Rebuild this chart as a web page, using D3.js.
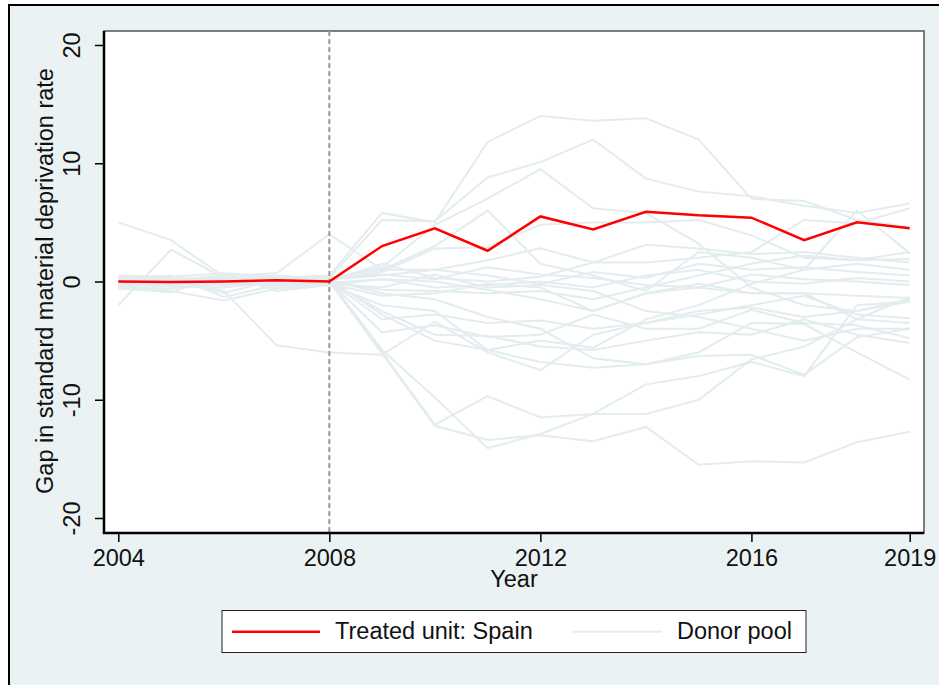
<!DOCTYPE html>
<html>
<head>
<meta charset="utf-8">
<script src="https://cdn.jsdelivr.net/npm/d3@7"></script>
<style>
  body { margin: 0; background: #fff; }
  text { font-family: "Liberation Sans", Arial, sans-serif; fill: #111; }
</style>
</head>
<body>
<div class="chart"></div>
<script>
// data
const years = d3.range(2004, 2020);
const spain = [0, -0.05, 0, 0.1, 0, 3.0, 4.5, 2.6, 5.5, 4.4, 5.9, 5.6, 5.4, 3.5, 5.0, 4.5];
const donors = [
  [0.3, 0.2, -0.3, 0.3, 0.5, 5.8, 5.0, 11.8, 14.0, 13.6, 13.8, 12.0, 7.0, 6.8, 5.2, 4.6],
  [0.2, 0.1, 0.4, 0.2, 0.3, 5.2, 5.1, 8.8, 10.1, 12.0, 8.7, 7.6, 7.2, 6.4, 5.8, 6.6],
  [0.0, -0.3, 0.2, 0.4, 0.2, 1.2, 4.8, 7.0, 9.5, 6.2, 5.8, 3.2, -0.5, -2.0, -2.5, -1.5],
  [-0.2, 0.1, 0.5, 0.7, 4.0, 1.0, 3.0, 6.0, 1.5, 0.5, -0.8, 2.5, 2.0, 1.0, 6.0, 2.4],
  [0.4, 0.3, 0.0, -0.2, 0.1, 0.8, 2.8, 2.9, 4.8, 5.0, 5.0, 5.2, 3.9, 2.0, 1.8, 2.5],
  [-0.3, -0.4, -0.5, 0.0, 0.0, 1.5, 0.3, 0.0, 0.4, 1.6, 3.1, 2.8, 2.3, 2.5, 2.0, 1.6],
  [0.1, -0.2, 0.3, 0.5, 0.2, 0.5, 1.0, 0.5, -0.2, 0.8, 0.3, 1.5, 1.0, 1.2, 0.8, 0.5],
  [-0.5, -0.6, -0.2, -0.3, -0.1, 0.2, -0.5, -0.3, 0.0, -0.5, 0.5, 1.0, 0.0, -0.2, 0.3, 0.0],
  [0.2, 0.5, -1.3, -0.3, 0.0, -0.7, -0.8, -1.0, -0.8, -1.5, -0.5, 0.5, 1.5, 2.2, 1.8, 1.9],
  [-0.2, -0.3, 0.0, 0.0, -0.2, -1.2, -1.0, -0.2, -0.5, -2.5, -1.0, -0.5, -1.0, -1.0, -1.2, -1.4],
  [0.0, 0.2, -1.0, 0.2, 0.0, -3.2, -2.8, -3.5, -3.3, -4.0, -3.5, -2.5, -2.2, -3.0, -2.5, -1.7],
  [-0.4, -0.8, -1.6, -0.6, -0.3, -2.0, -2.5, -5.8, -5.0, -5.6, -3.2, -2.0, -0.2, 1.0, 1.5, 1.0],
  [0.3, 0.2, -0.8, -5.4, -6.0, -6.2, -3.4, -6.0, -7.5, -4.5, -3.5, -2.8, -2.0, -1.2, -2.8, -3.1],
  [0.1, 0.0, 0.3, 0.2, 0.0, -4.3, -3.7, -4.7, -4.5, -2.8, -4.0, -4.0, -2.4, -3.5, -3.7, -4.8],
  [-0.1, 0.1, -0.3, 0.1, 0.0, -2.5, -4.5, -4.6, -5.5, -5.8, -5.0, -4.3, -4.5, -3.2, -4.5, -5.2],
  [0.2, -0.1, 0.4, 0.0, 0.1, -1.0, -1.5, -3.0, -4.0, -6.5, -7.0, -6.3, -6.2, -7.9, -4.7, -4.0],
  [0.0, 0.3, 0.1, 0.3, 0.2, -2.8, -5.0, -5.8, -6.8, -7.3, -7.0, -6.0, -3.5, -3.6, -6.0, -8.3],
  [0.1, 0.0, -0.2, 0.3, 0.0, -6.0, -12.1, -9.7, -11.5, -11.2, -11.2, -10.0, -6.6, -5.5, -3.2, -1.3],
  [-0.3, -0.2, 0.0, 0.1, 0.1, -5.8, -9.8, -14.1, -12.9, -11.2, -8.7, -8.0, -6.8, -8.0, -2.0, -1.7],
  [0.0, 0.0, 0.2, -0.1, 0.0, -6.1, -12.2, -13.4, -13.0, -13.5, -12.3, -15.5, -15.2, -15.3, -13.6, -12.7],
  [5.0, 3.5, 0.4, 0.1, 0.3, 0.6, 0.2, 1.2, 0.6, 0.3, -0.3, -0.5, 0.6, 0.2, 0.0, -0.3],
  [-2.0, 2.7, 0.3, -0.5, -0.2, -0.5, 0.6, -0.5, -0.3, -0.8, -2.5, -3.0, -4.0, -5.0, -4.0, -4.0],
  [0.5, 0.4, 0.7, 0.4, 0.3, 1.0, 1.0, 1.8, 2.8, 1.6, 1.6, 2.0, 2.5, 5.2, 4.9, 6.2],
  [-0.6, -0.9, 0.6, -0.8, -0.3, 0.2, 0.0, -0.7, -1.5, -2.5, -1.0, -0.2, -1.0, -1.0, -3.2, -3.5]
];
const xTicks = [2004, 2008, 2012, 2016, 2019];
const yTicks = [-20, -10, 0, 10, 20];
const treatYear = 2008;
const legendLabels = ["Treated unit: Spain", "Donor pool"];

const width = 939, height = 685;
const plot = {left: 104, right: 924, top: 31, bottom: 533};
const fontSize = 23.5;

const svg = d3.select(".chart")
    .append("svg")
    .attr("width", width)
    .attr("height", height);

// graph region
svg.append("rect")
    .attr("x", 9).attr("y", 5)
    .attr("width", 960).attr("height", 720)
    .attr("fill", "#eaf2f3")
    .attr("stroke", "#000")
    .attr("stroke-width", 2);

// plot region
svg.append("rect")
    .attr("x", plot.left).attr("y", plot.top)
    .attr("width", plot.right - plot.left)
    .attr("height", plot.bottom - plot.top)
    .attr("fill", "#fff")
    .attr("stroke", "#555")
    .attr("stroke-width", 1.5);

const xScale = d3.scaleLinear()
    .domain([2004, 2019])
    .range([118.3, 909.7]);

const yScale = d3.scaleLinear()
    .domain([-20, 20])
    .range([518, 45]);

const line = d3.line()
    .x((d, i) => xScale(years[i]))
    .y(d => yScale(d));

svg.append("g")
    .selectAll("path")
    .data(donors)
    .enter()
    .append("path")
    .attr("d", line)
    .attr("fill", "none")
    .attr("stroke", "#e3ecee")
    .attr("stroke-width", 2);

svg.append("line")
    .attr("x1", xScale(treatYear)).attr("x2", xScale(treatYear))
    .attr("y1", plot.top).attr("y2", plot.bottom)
    .attr("stroke", "#999")
    .attr("stroke-width", 2)
    .attr("stroke-dasharray", "5,3");

svg.append("path")
    .datum(spain)
    .attr("d", line)
    .attr("fill", "none")
    .attr("stroke", "#ff0000")
    .attr("stroke-width", 2.5);

// axes
const xAxis = d3.axisBottom(xScale)
    .tickValues(xTicks)
    .tickFormat(d => String(d))
    .tickSize(9)
    .tickPadding(7);
const yAxis = d3.axisLeft(yScale)
    .tickValues(yTicks)
    .tickFormat(d => String(d))
    .tickSize(9);

const gx = svg.append("g")
    .attr("transform", `translate(0, ${plot.bottom})`)
    .call(xAxis);
gx.select(".domain").remove();
gx.selectAll("line").attr("stroke", "#000").attr("stroke-width", 1.5);
gx.selectAll("text").attr("font-size", fontSize).attr("fill", "#111");

const gy = svg.append("g")
    .attr("transform", `translate(${plot.left}, 0)`)
    .call(yAxis);
gy.select(".domain").remove();
gy.selectAll("line").attr("stroke", "#000").attr("stroke-width", 1.5);
gy.selectAll("text")
    .attr("font-size", fontSize)
    .attr("fill", "#111")
    .attr("text-anchor", "middle")
    .attr("x", 0)
    .attr("y", 0)
    .attr("dy", 0)
    .attr("transform", "translate(-24, 0) rotate(-90)");

// axis lines
svg.append("line")
    .attr("x1", plot.left).attr("x2", plot.left)
    .attr("y1", plot.top).attr("y2", plot.bottom + 1)
    .attr("stroke", "#000").attr("stroke-width", 2.5);
svg.append("line")
    .attr("x1", plot.left - 1).attr("x2", plot.right)
    .attr("y1", plot.bottom).attr("y2", plot.bottom)
    .attr("stroke", "#000").attr("stroke-width", 2.5);

// axis titles
svg.append("text")
    .attr("x", (plot.left + plot.right) / 2)
    .attr("y", 587)
    .attr("text-anchor", "middle")
    .attr("font-size", fontSize)
    .text("Year");

svg.append("text")
    .attr("transform", `translate(53, 281) rotate(-90)`)
    .attr("text-anchor", "middle")
    .attr("font-size", fontSize)
    .text("Gap in standard material deprivation rate");

// legend
const legend = svg.append("g");
legend.append("rect")
    .attr("x", 222).attr("y", 610.5)
    .attr("width", 584).attr("height", 42)
    .attr("fill", "#fff")
    .attr("stroke", "#222")
    .attr("stroke-width", 1);

const legendItems = [
    {label: legendLabels[0], color: "#ff0000", w: 2.5, x0: 232, x1: 320, tx: 335},
    {label: legendLabels[1], color: "#e3ecee", w: 2, x0: 573, x1: 662, tx: 677}
];
legend.selectAll(".legend-line")
    .data(legendItems)
    .enter()
    .append("line")
    .attr("x1", d => d.x0).attr("x2", d => d.x1)
    .attr("y1", 631.7).attr("y2", 631.7)
    .attr("stroke", d => d.color)
    .attr("stroke-width", d => d.w);
legend.selectAll(".legend-text")
    .data(legendItems)
    .enter()
    .append("text")
    .attr("x", d => d.tx)
    .attr("y", 638.5)
    .attr("font-size", fontSize)
    .text(d => d.label);
</script>
</body>
</html>
